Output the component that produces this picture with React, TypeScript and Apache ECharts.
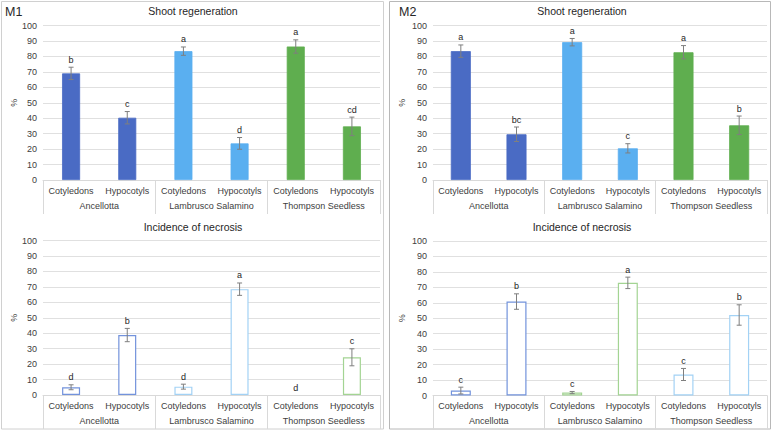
import React, { useEffect, useRef } from "react";
import * as echarts from "echarts";

const subCategories = ["Cotyledons", "Hypocotyls", "Cotyledons", "Hypocotyls", "Cotyledons", "Hypocotyls"];
const groups = ["Ancellotta", "Lambrusco Salamino", "Thompson Seedless"];

const m1ShootMean = [69.0, 40.3, 83.4, 23.7, 86.4, 34.7];
const m1ShootErr = [4.0, 4.0, 2.7, 3.8, 4.3, 6.0];
const m1ShootLetters = ["b", "c", "a", "d", "a", "cd"];

const m1NecMean = [5.0, 38.8, 5.4, 68.5, 0, 24.4];
const m1NecErr = [1.6, 4.3, 1.6, 4.0, 0, 5.5];
const m1NecLetters = ["d", "b", "d", "a", "d", "c"];

const m2ShootMean = [83.4, 29.6, 89.2, 20.5, 82.7, 35.4];
const m2ShootErr = [4.0, 4.7, 2.4, 3.0, 4.3, 6.0];
const m2ShootLetters = ["a", "bc", "a", "c", "a", "b"];

const m2NecMean = [3.2, 60.8, 1.9, 72.9, 13.6, 52.1];
const m2NecErr = [2.2, 5.0, 0.7, 3.7, 3.9, 6.6];
const m2NecLetters = ["c", "b", "c", "a", "c", "b"];

const FONT = "'Liberation Sans', Arial, sans-serif";
const DARK = "#4a6bc4";
const LIGHT = "#5aaff0";
const GREEN = "#5fae4f";
const DARK_O = "#7393dc";
const LIGHT_O = "#a3d2f5";
const GREEN_O = "#a3d493";

const shootColors = [DARK, DARK, LIGHT, LIGHT, GREEN, GREEN];
const m1NecColors = [DARK_O, DARK_O, LIGHT_O, LIGHT_O, GREEN_O, GREEN_O];
const m2NecColors = [DARK_O, DARK_O, GREEN_O, GREEN_O, LIGHT_O, LIGHT_O];

const grids = [
  { left: 43, top: 25.5, width: 337, height: 154.5 },
  { left: 43, top: 240.5, width: 337, height: 154.5 },
  { left: 433, top: 25.5, width: 334, height: 154.5 },
  { left: 433, top: 241, width: 334, height: 154.5 },
];

export default function App() {
  const ref = useRef<HTMLDivElement>(null);
  useEffect(() => {
    if (!ref.current) return;
    const chart = echarts.init(ref.current, undefined, { renderer: "svg" });

    const panels = [
      { mean: m1ShootMean, err: m1ShootErr, letters: m1ShootLetters, colors: shootColors, filled: true, barWidth: 18, nameGap: 24 },
      { mean: m1NecMean, err: m1NecErr, letters: m1NecLetters, colors: m1NecColors, filled: false, barWidth: 18, nameGap: 24 },
      { mean: m2ShootMean, err: m2ShootErr, letters: m2ShootLetters, colors: shootColors, filled: true, barWidth: 20, nameGap: 27 },
      { mean: m2NecMean, err: m2NecErr, letters: m2NecLetters, colors: m2NecColors, filled: false, barWidth: 20, nameGap: 27 },
    ];

    const xAxis: any[] = [];
    const yAxis: any[] = [];
    const series: any[] = [];
    panels.forEach((p, i) => {
      xAxis.push({
        gridIndex: i,
        type: "category",
        data: subCategories,
        axisLine: { show: true, lineStyle: { color: "#d9d9d9" } },
        axisTick: { show: false },
        axisLabel: { interval: 0, margin: 6, fontSize: 9, color: "#404040", fontFamily: FONT },
        splitLine: { show: false },
      });
      xAxis.push({
        gridIndex: i,
        type: "category",
        data: groups,
        position: "bottom",
        axisLine: { show: false },
        axisTick: { show: true, length: 34, lineStyle: { color: "#d9d9d9" } },
        axisLabel: { interval: 0, margin: 21, fontSize: 9, color: "#404040", fontFamily: FONT },
        splitLine: { show: false },
      });
      yAxis.push({
        gridIndex: i,
        type: "value",
        min: 0,
        max: 100,
        interval: 10,
        axisLine: { show: false },
        axisTick: { show: false },
        splitLine: { show: true, lineStyle: { color: "#e0e0e0", width: 1 } },
        axisLabel: { fontSize: 9, color: "#404040", margin: 6, fontFamily: FONT },
        name: "%",
        nameLocation: "middle",
        nameRotate: 90,
        nameGap: p.nameGap,
        nameTextStyle: { fontSize: 9, color: "#404040", fontFamily: FONT },
      });
      series.push({
        type: "bar",
        xAxisIndex: i * 2,
        yAxisIndex: i,
        barWidth: p.barWidth,
        data: p.mean.map((v, k) => ({
          value: v,
          itemStyle: p.filled
            ? { color: p.colors[k], borderColor: p.colors[k], borderWidth: 0.8 }
            : { color: "#ffffff", borderColor: p.colors[k], borderWidth: v > 0 ? 1.2 : 0 },
        })),
      });
      series.push({
        type: "custom",
        xAxisIndex: i * 2,
        yAxisIndex: i,
        data: p.mean.map((v, k) => [k, v, p.err[k]]),
        z: 5,
        renderItem: (params: any, api: any) => {
          const x = api.value(0);
          const m = api.value(1);
          const e = api.value(2);
          const top = api.coord([x, m + e]);
          const bot = api.coord([x, Math.max(0, m - e)]);
          const children: any[] = [];
          const st = { stroke: "#7f7f7f", lineWidth: 1 };
          if (e > 0) {
            children.push({ type: "line", shape: { x1: top[0], y1: top[1], x2: bot[0], y2: bot[1] }, style: st });
            children.push({ type: "line", shape: { x1: top[0] - 2.5, y1: top[1], x2: top[0] + 2.5, y2: top[1] }, style: st });
            children.push({ type: "line", shape: { x1: bot[0] - 2.5, y1: bot[1], x2: bot[0] + 2.5, y2: bot[1] }, style: st });
          }
          children.push({
            type: "text",
            style: {
              text: p.letters[params.dataIndex],
              x: top[0],
              y: top[1] - 3,
              align: "center",
              verticalAlign: "bottom",
              fontSize: 9,
              fill: "#262626",
              fontFamily: FONT,
            },
          });
          return { type: "group", children };
        },
      });
    });

    const txt = (text: string, x: number, y: number, size: number, align: string = "center") => ({
      type: "text",
      x,
      y,
      z: 10,
      style: { text, fontSize: size, fill: "#262626", fontFamily: FONT, align, verticalAlign: "middle" },
    });

    chart.setOption({
      animation: false,
      backgroundColor: "#ffffff",
      grid: grids.map((g) => ({ ...g, containLabel: false })),
      xAxis,
      yAxis,
      series,
      graphic: [
        { type: "rect", shape: { x: 1.5, y: 1.5, width: 382, height: 427.5 }, style: { fill: "none", stroke: "#d0d0d0", lineWidth: 1 }, z: -1 },
        { type: "rect", shape: { x: 389.5, y: 1.5, width: 381, height: 427.5 }, style: { fill: "none", stroke: "#b8b8b8", lineWidth: 1 }, z: -1 },
        txt("M1", 5, 11.5, 12.5, "left"),
        txt("M2", 399, 12, 12.5, "left"),
        txt("Shoot regeneration", 193, 11, 10.5),
        txt("Incidence of necrosis", 193, 226.5, 10.5),
        txt("Shoot regeneration", 582, 11, 10.5),
        txt("Incidence of necrosis", 582, 226.5, 10.5),
      ],
    });
    return () => chart.dispose();
  }, []);
  return (
    <div
      ref={ref}
      style={{ position: "absolute", left: 0, top: 0, width: 773, height: 431, background: "#fff" }}
    />
  );
}
